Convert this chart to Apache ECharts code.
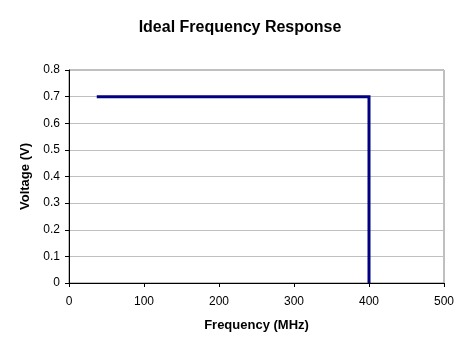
<!DOCTYPE html>
<html><head><meta charset="utf-8">
<script src="https://cdn.jsdelivr.net/npm/echarts@6/dist/echarts.min.js"></script>
<style>html,body{margin:0;padding:0;background:#fff}#c{width:472px;height:354px}</style>
</head><body><div id="c"></div>
<script>
const frequency = [37, 400, 400];
const voltage = [0.7, 0.7, 0];
const xTicks = [0, 100, 200, 300, 400, 500];
const yTicks = [0, 0.1, 0.2, 0.3, 0.4, 0.5, 0.6, 0.7, 0.8];

const chart = echarts.init(document.getElementById('c'), null, {renderer: 'canvas'});
const font = 'Liberation Sans, Arial, sans-serif';
chart.setOption({
  animation: false,
  backgroundColor: '#ffffff',
  title: {
    text: 'Ideal Frequency Response', left: 235, top: 15, textAlign: 'center',
    textStyle: {fontFamily: font, fontSize: 16, fontWeight: 'bold', color: '#000'}
  },
  grid: {left: 69, top: 70, right: 28, bottom: 71, show: true, borderColor: '#808080', borderWidth: 1, backgroundColor: 'transparent'},
  xAxis: {
    type: 'value', min: xTicks[0], max: xTicks[xTicks.length - 1], interval: 100,
    name: 'Frequency (MHz)', nameLocation: 'middle', nameGap: 36,
    nameTextStyle: {fontFamily: font, fontSize: 13, fontWeight: 'bold', color: '#000'},
    axisLine: {show: true, onZero: false, lineStyle: {color: '#000', width: 1}},
    axisTick: {show: true, length: 4, inside: false, lineStyle: {color: '#000'}},
    axisLabel: {fontFamily: font, fontSize: 12, color: '#000', margin: 13},
    splitLine: {show: false}
  },
  yAxis: {
    type: 'value', min: yTicks[0], max: yTicks[yTicks.length - 1], interval: 0.1,
    name: 'Voltage (V)', nameLocation: 'middle', nameGap: 35,
    nameTextStyle: {fontFamily: font, fontSize: 13, fontWeight: 'bold', color: '#000'},
    axisLine: {show: true, onZero: false, lineStyle: {color: '#000', width: 1}},
    axisTick: {show: true, length: 4, inside: false, lineStyle: {color: '#000'}},
    axisLabel: {fontFamily: font, fontSize: 12, color: '#000', margin: 9,
      formatter: v => String(Math.round(v * 10) / 10)},
    splitLine: {show: true, lineStyle: {color: '#c0c0c0', width: 1}}
  },
  series: [{
    type: 'line', data: frequency.map((f, i) => [f, voltage[i]]),
    showSymbol: false, symbol: 'none',
    lineStyle: {color: '#000080', width: 3, cap: 'butt', join: 'miter'},
    itemStyle: {color: '#000080'}
  }]
});
</script></body></html>
